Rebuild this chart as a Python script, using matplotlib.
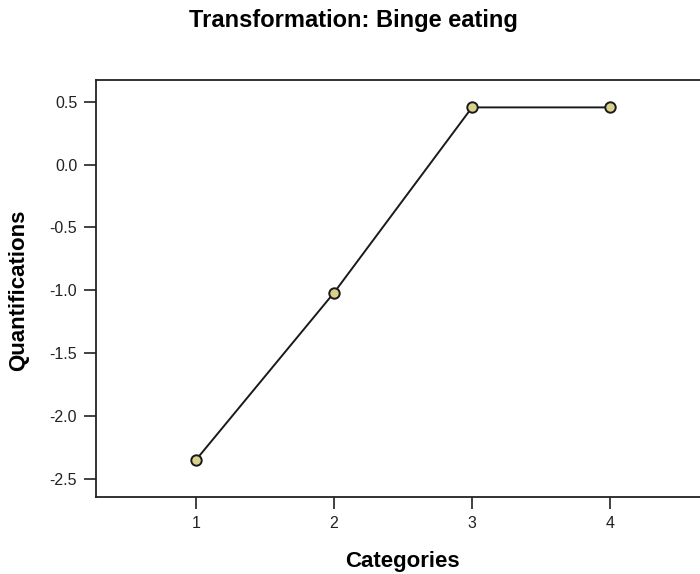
import matplotlib
matplotlib.use("Agg")
import matplotlib.pyplot as plt

plt.rcParams['font.family'] = ['Liberation Sans', 'DejaVu Sans']

# data
categories = [1, 2, 3, 4]
quantifications = [-2.35, -1.02, 0.455, 0.455]
yticks = [0.5, 0.0, -0.5, -1.0, -1.5, -2.0, -2.5]


def main():
    fig = plt.figure(figsize=(7.0, 5.74), dpi=100)
    ax = fig.add_axes([96 / 700, 77 / 574, 1 - 96 / 700, (497 - 80) / 574])

    ax.plot(categories, quantifications, color='#1a1a1a', linewidth=1.4,
            marker='o', markersize=7.5, markerfacecolor='#d9d08c',
            markeredgecolor='#1a1a1a', markeredgewidth=1.4, zorder=3)

    ax.set_xlim(0.275, 4.652)
    ax.set_ylim(-2.646, 0.673)
    ax.set_xticks(categories)
    ax.set_yticks(yticks)
    ax.set_yticklabels([f'{v:.1f}' for v in yticks])

    ax.spines['right'].set_visible(False)
    for s in ('left', 'top', 'bottom'):
        ax.spines[s].set_linewidth(1.3)
        ax.spines[s].set_color('#222222')
    ax.tick_params(axis='both', length=8.5, width=1.3, color='#333333',
                   labelsize=11.5, labelcolor='#222222')
    ax.tick_params(axis='x', pad=5.5)
    ax.tick_params(axis='y', pad=5)

    ax.set_xlabel('Categories', fontsize=16, fontweight='bold', va='baseline')
    ax.xaxis.set_label_coords(0.508, -0.168)
    ax.set_ylabel('Quantifications', fontsize=16, fontweight='bold')
    ax.yaxis.set_label_coords(-0.111, 0.495)

    fig.text(353.5 / 700, 1 - 27 / 574, 'Transformation: Binge eating',
             fontsize=17, fontweight='bold', ha='center', va='baseline')

    fig.savefig('out.png', dpi=100)
    plt.close(fig)


if __name__ == "__main__":
    main()
